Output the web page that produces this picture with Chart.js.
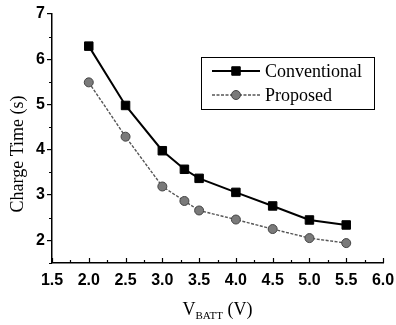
<!DOCTYPE html>
<html>
<head>
<meta charset="utf-8">
<script src="https://cdn.jsdelivr.net/npm/chart.js@4/dist/chart.umd.min.js"></script>
<style>
  html, body { margin: 0; padding: 0; background: #fff; }
  #wrap { width: 396px; height: 325px; }
</style>
</head>
<body>
<div id="wrap"><canvas id="chart" width="396" height="325"></canvas></div>
<script>
// Charge time vs battery voltage
var vbatt = [2.0, 2.5, 3.0, 3.3, 3.5, 4.0, 4.5, 5.0, 5.5];
var conventional = [6.29, 4.98, 3.98, 3.57, 3.37, 3.06, 2.76, 2.45, 2.34];
var proposed = [5.49, 4.29, 3.19, 2.87, 2.66, 2.46, 2.25, 2.05, 1.94];
var xTicks = [1.5, 2.0, 2.5, 3.0, 3.5, 4.0, 4.5, 5.0, 5.5, 6.0];
var yTicks = [2, 3, 4, 5, 6, 7];
var seriesNames = ['Conventional', 'Proposed'];

function pts(ys) {
    return vbatt.map(function(x, i) { return { x: x, y: ys[i] }; });
}

var serif = '"Liberation Serif", "Times New Roman", serif';

// x ticks (pointing inward), minor ticks, axis titles and the boxed legend
var extras = {
    id: 'extras',
    afterDraw: function(chart) {
        var ctx = chart.ctx;
        var xs = chart.scales.x, ys = chart.scales.y;
        ctx.save();
        ctx.strokeStyle = '#000';
        ctx.lineWidth = 1.2;
        ctx.beginPath();
        xs.ticks.forEach(function(t) {
            var px = Math.round(xs.getPixelForValue(t.value)) + 0.5;
            ctx.moveTo(px, xs.top);
            ctx.lineTo(px, xs.top - 5);
        });
        for (var v = 1.75; v < 6; v += 0.5) {
            var mx = Math.round(xs.getPixelForValue(v)) + 0.5;
            ctx.moveTo(mx, xs.top);
            ctx.lineTo(mx, xs.top - 3);
        }
        for (var w = 1.5; w < 7; w += 1) {
            var py = Math.round(ys.getPixelForValue(w)) + 0.5;
            ctx.moveTo(ys.right, py);
            ctx.lineTo(ys.right - 3, py);
        }
        ctx.stroke();

        // y title
        ctx.fillStyle = '#000';
        ctx.font = '18px ' + serif;
        ctx.textAlign = 'center';
        ctx.textBaseline = 'middle';
        ctx.save();
        ctx.translate(18, 154);
        ctx.rotate(-Math.PI / 2);
        ctx.fillText('Charge Time (s)', 0, 0);
        ctx.restore();

        // x title with subscript
        var big = '18px ' + serif;
        var small = '11px ' + serif;
        ctx.textAlign = 'left';
        ctx.textBaseline = 'alphabetic';
        ctx.font = big; var w1 = ctx.measureText('V').width;
        ctx.font = small; var w2 = ctx.measureText('BATT').width;
        ctx.font = big; var w3 = ctx.measureText(' (V)').width;
        var cx = (chart.chartArea.left + chart.chartArea.right) / 2;
        var x0 = cx - (w1 + w2 + w3) / 2;
        var base = 315;
        ctx.font = big; ctx.fillText('V', x0, base);
        ctx.font = small; ctx.fillText('BATT', x0 + w1, base + 4);
        ctx.font = big; ctx.fillText(' (V)', x0 + w1 + w2, base);

        // legend box
        ctx.lineWidth = 1;
        ctx.strokeStyle = '#000';
        ctx.strokeRect(201.5, 57.5, 173, 52);
        var rows = [71, 95];
        chart.data.datasets.forEach(function(ds, i) {
            var y = rows[i];
            ctx.save();
            ctx.strokeStyle = ds.borderColor;
            ctx.lineWidth = ds.borderWidth;
            ctx.setLineDash(ds.borderDash || []);
            ctx.beginPath();
            ctx.moveTo(212, y);
            ctx.lineTo(260, y);
            ctx.stroke();
            ctx.restore();
            ctx.fillStyle = ds.pointBackgroundColor;
            ctx.strokeStyle = ds.pointBorderColor;
            ctx.lineWidth = ds.pointBorderWidth;
            ctx.beginPath();
            if (ds.pointStyle === 'rect') {
                var s = ds.pointRadius * Math.SQRT1_2;
                ctx.rect(236 - s, y - s, 2 * s, 2 * s);
            } else {
                ctx.arc(236, y, ds.pointRadius, 0, Math.PI * 2);
            }
            ctx.fill();
            ctx.stroke();
            ctx.fillStyle = '#000';
            ctx.font = big;
            ctx.textBaseline = 'middle';
            ctx.fillText(ds.label, 265, y + 1);
        });
        ctx.restore();
    }
};

new Chart(document.getElementById('chart'), {
    type: 'line',
    data: {
        datasets: [{
            label: seriesNames[0],
            data: pts(conventional),
            borderColor: '#000',
            borderWidth: 2,
            pointStyle: 'rect',
            pointRadius: 6,
            pointBackgroundColor: '#000',
            pointBorderColor: '#000',
            pointBorderWidth: 1,
            tension: 0
        }, {
            label: seriesNames[1],
            data: pts(proposed),
            borderColor: '#555',
            borderWidth: 1.4,
            borderDash: [3, 1.5],
            pointStyle: 'circle',
            pointRadius: 4.5,
            pointBackgroundColor: '#7a7a7a',
            pointBorderColor: '#444',
            pointBorderWidth: 1,
            tension: 0
        }]
    },
    options: {
        responsive: false,
        animation: false,
        events: [],
        layout: { padding: { top: 14, right: 13, left: 0, bottom: 0 } },
        plugins: { legend: { display: false }, tooltip: { enabled: false } },
        scales: {
            x: {
                type: 'linear',
                min: 1.5,
                max: 6,
                afterBuildTicks: function(s) { s.ticks = xTicks.map(function(v) { return { value: v }; }); },
                afterFit: function(s) { s.height = 62; s.paddingLeft = 0; s.paddingRight = 0; },
                border: { color: '#000', width: 1.5 },
                grid: { drawOnChartArea: false, drawTicks: false },
                ticks: {
                    color: '#000',
                    padding: 8,
                    maxRotation: 0,
                    font: { family: '"Liberation Sans", Arial, sans-serif', size: 16, weight: 'bold' },
                    callback: function(v) { return v.toFixed(1); }
                }
            },
            y: {
                min: 1.5,
                max: 7,
                afterBuildTicks: function(s) { s.ticks = yTicks.map(function(v) { return { value: v }; }); },
                afterFit: function(s) { s.width = 52; s.paddingTop = 0; s.paddingBottom = 0; },
                border: { color: '#000', width: 1.5 },
                grid: { drawOnChartArea: false, color: '#000', tickLength: 5, lineWidth: 1.2 },
                ticks: {
                    color: '#000',
                    padding: 2,
                    font: { family: '"Liberation Sans", Arial, sans-serif', size: 16, weight: 'bold' },
                    callback: function(v) { return String(v); }
                }
            }
        }
    },
    plugins: [extras]
});
</script>
</body>
</html>
